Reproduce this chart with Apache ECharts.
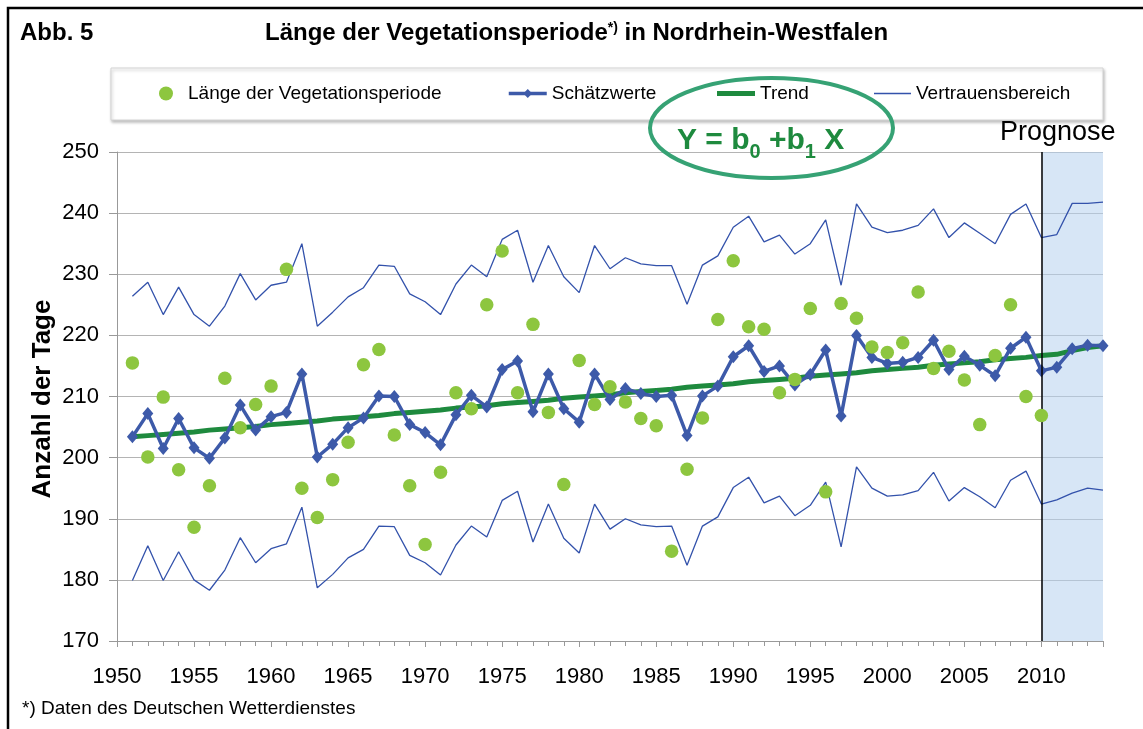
<!DOCTYPE html>
<html>
<head>
<meta charset="utf-8">
<script src="https://cdn.jsdelivr.net/npm/echarts@6/dist/echarts.min.js"></script>
<style>
  html, body { margin: 0; padding: 0; background: #fff; }
  #chart { width: 1143px; height: 729px; }
</style>
</head>
<body>
<div id="chart"></div>
<script>
// ---------- DATA ----------

const years = [];
for (let y = 1951; y <= 2014; y++) years.push(y);

// Länge der Vegetationsperiode (1951 - 2010)
const vegetation = [
	215.5, 200.1, 209.9, 198.0, 188.6, 195.4, 213.0, 204.9, 208.7, 211.7,
	230.8, 195.0, 190.2, 196.4, 202.5, 215.2, 217.7, 203.7, 195.4, 185.8,
	197.6, 210.6, 208.0, 225.0, 233.8, 210.6, 221.8, 207.4, 195.6, 215.9,
	208.7, 211.6, 209.1, 206.4, 205.2, 184.7, 198.1, 206.5, 222.6, 232.2,
	221.4, 221.0, 210.6, 212.8, 224.4, 194.4, 225.2, 222.8, 218.1, 217.2,
	218.8, 227.1, 214.6, 217.4, 212.7, 205.4, 216.7, 225.0, 210.0, 206.9
];

// Schätzwerte (1951 - 2014)
const estimates = [
	203.4, 207.2, 201.5, 206.4, 201.6, 199.9, 203.2, 208.6, 204.5, 206.7,
	207.4, 213.7, 200.1, 202.2, 204.9, 206.5, 210.1, 210.0, 205.4, 204.1,
	202.1, 207.0, 210.2, 208.3, 214.4, 215.8, 207.5, 213.7, 208.0, 205.8,
	213.7, 209.5, 211.3, 210.5, 210.0, 210.2, 203.6, 210.1, 211.7, 216.5,
	218.3, 214.1, 215.0, 211.9, 213.6, 217.6, 206.8, 220.0, 216.4, 215.4,
	215.6, 216.4, 219.2, 214.4, 216.6, 215.1, 213.4, 217.9, 219.7, 214.2,
	214.8, 217.8, 218.4, 218.3
];

// Trend (1951 - 2014)
const trend = [
	203.4, 203.6, 203.8, 204.0, 204.2, 204.5, 204.7, 204.9, 205.1, 205.4,
	205.6, 205.8, 206.0, 206.3, 206.5, 206.7, 206.9, 207.2, 207.4, 207.6,
	207.8, 208.1, 208.3, 208.5, 208.8, 209.0, 209.2, 209.4, 209.7, 209.9,
	210.1, 210.3, 210.6, 210.8, 211.0, 211.2, 211.5, 211.7, 211.9, 212.1,
	212.4, 212.6, 212.8, 213.0, 213.3, 213.5, 213.7, 213.9, 214.2, 214.4,
	214.6, 214.8, 215.1, 215.3, 215.5, 215.7, 216.0, 216.2, 216.4, 216.7,
	216.9, 217.5, 218.0, 218.3
];

// Vertrauensbereich oben / unten (1951 - 2014)
const upperBound = [
	226.4, 228.7, 223.4, 227.9, 223.4, 221.5, 224.8, 230.1, 225.8, 228.2,
	228.7, 235.0, 221.5, 223.8, 226.3, 227.8, 231.5, 231.3, 226.8, 225.5,
	223.4, 228.4, 231.5, 229.6, 235.7, 237.2, 228.7, 234.7, 229.6, 227.0,
	234.7, 230.9, 232.7, 231.7, 231.4, 231.4, 225.1, 231.5, 233.0, 237.7,
	239.5, 235.3, 236.4, 233.3, 235.0, 238.9, 228.2, 241.5, 237.7, 236.8,
	237.2, 238.0, 240.7, 236.0, 238.4, 236.7, 235.0, 239.8, 241.5, 236.0,
	236.5, 241.6, 241.6, 241.8
];
const lowerBound = [
	179.9, 185.6, 179.9, 184.6, 180.0, 178.3, 181.6, 186.9, 182.8, 185.1,
	185.9, 191.9, 178.7, 180.9, 183.6, 185.0, 188.8, 188.7, 184.0, 182.8,
	180.8, 185.7, 188.8, 187.0, 193.0, 194.5, 186.2, 192.4, 186.8, 184.4,
	192.4, 188.3, 190.0, 189.0, 188.7, 188.8, 182.4, 188.8, 190.3, 195.1,
	196.8, 192.6, 193.7, 190.5, 192.2, 196.0, 185.4, 198.5, 195.0, 193.7,
	193.9, 194.6, 197.6, 192.9, 195.1, 193.6, 191.8, 196.3, 197.8, 192.4,
	193.1, 194.2, 195.0, 194.7
];

const prognoseStart = 2010;
const prognoseEnd = 2014;

// ---------- CHART ----------

const FONT = 'Liberation Sans, Arial, sans-serif';
const pairs = (vals) => vals.map((v, i) => [years[i], v]);

let chart = echarts.init(document.getElementById('chart'));

let legendBase = {
	top: 84,
	itemHeight: 12,
	itemWidth: 38,
	padding: 0,
	selectedMode: false,
	textStyle: { fontFamily: FONT, fontSize: 19, color: '#000' }
};

let option = {
	animation: false,
	backgroundColor: '#fff',
	textStyle: { fontFamily: FONT },
	title: [
		{
			text: 'Abb. 5',
			left: 20, top: 21, padding: 0,
			textStyle: { fontFamily: FONT, fontSize: 24, fontWeight: 'bold', color: '#000' }
		},
		{
			text: 'Länge der Vegetationsperiode{s|*)} in Nordrhein-Westfalen',
			left: 265, top: 21, padding: 0,
			textStyle: {
				fontFamily: FONT, fontSize: 24, fontWeight: 'bold', color: '#000',
				rich: {
					s: { fontFamily: FONT, fontSize: 14, fontWeight: 'bold', verticalAlign: 'top', padding: [0, 0, 8, 0] }
				}
			}
		}
	],
	legend: [
		Object.assign({}, legendBase, {
			left: 159, itemWidth: 14, itemHeight: 14,
			data: [{ name: 'Länge der Vegetationsperiode', icon: 'circle' }],
			textStyle: Object.assign({}, legendBase.textStyle, { padding: [0, 0, 0, 10] })
		}),
		Object.assign({}, legendBase, {
			left: 507, itemHeight: 11,
			data: [{ name: 'Schätzwerte', lineStyle: { width: 3.5 } }]
		}),
		Object.assign({}, legendBase, {
			left: 717, itemHeight: 5,
			data: [{ name: 'Trend', icon: 'rect' }]
		}),
		Object.assign({}, legendBase, {
			left: 874, itemWidth: 37, itemHeight: 1.6,
			data: [{ name: 'Vertrauensbereich', icon: 'rect' }]
		})
	],
	grid: { left: 117, right: 40, top: 152, bottom: 88 },
	xAxis: {
		type: 'value',
		min: 1950,
		max: 2014,
		interval: 5,
		splitLine: { show: false },
		axisLine: { lineStyle: { color: '#999', width: 1 } },
		axisTick: { length: 6, lineStyle: { color: '#999' } },
		minorTick: { show: true, splitNumber: 5, length: 5, lineStyle: { color: '#999' } },
		axisLabel: {
			margin: 25,
			fontSize: 22,
			color: '#000',
			showMaxLabel: false,
			formatter: (v) => String(v)
		}
	},
	yAxis: {
		type: 'value',
		min: 170,
		max: 250,
		interval: 10,
		axisLine: { show: true, lineStyle: { color: '#999' } },
		axisTick: { show: true, length: 8, lineStyle: { color: '#999' } },
		splitLine: { lineStyle: { color: '#b4b4b4', width: 1 } },
		axisLabel: { margin: 18, fontSize: 22, color: '#000' }
	},
	series: [
		{
			name: 'Vertrauensbereich',
			type: 'line',
			data: pairs(upperBound),
			symbol: 'none',
			lineStyle: { color: '#3352ab', width: 1.3 },
			itemStyle: { color: '#3352ab' },
			z: 2
		},
		{
			name: 'Vertrauensbereich',
			type: 'line',
			data: pairs(lowerBound),
			symbol: 'none',
			lineStyle: { color: '#3352ab', width: 1.3 },
			itemStyle: { color: '#3352ab' },
			z: 2
		},
		{
			name: 'Trend',
			type: 'line',
			data: pairs(trend),
			symbol: 'none',
			lineStyle: { color: '#1e8a3e', width: 5 },
			itemStyle: { color: '#1e8a3e' },
			z: 3
		},
		{
			name: 'Schätzwerte',
			type: 'line',
			data: pairs(estimates),
			symbol: 'diamond',
			symbolSize: [11, 13],
			lineStyle: { color: '#3d5aa9', width: 3.5 },
			itemStyle: { color: '#3d5aa9' },
			z: 4
		},
		{
			name: 'Länge der Vegetationsperiode',
			type: 'scatter',
			data: pairs(vegetation),
			symbolSize: 13.5,
			itemStyle: { color: '#8dc63f', opacity: 1 },
			z: 5
		},
		{
			// Prognose-Bereich (halbtransparent über den Linien)
			name: 'Prognose',
			type: 'line',
			data: [],
			z: 6,
			markArea: {
				silent: true,
				itemStyle: { color: 'rgba(182, 210, 238, 0.55)' },
				data: [[{ xAxis: prognoseStart }, { xAxis: prognoseEnd }]]
			},
			markLine: {
				silent: true,
				symbol: 'none',
				label: { show: false },
				lineStyle: { color: '#000', width: 1.5, type: 'solid' },
				data: [{ xAxis: prognoseStart }]
			}
		}
	],
	graphic: [
		// Rahmen
		{
			type: 'rect',
			shape: { x: 8, y: 8, width: 1160, height: 800 },
			style: { fill: 'none', stroke: '#000', lineWidth: 2.5 },
			silent: true, z: -10
		},
		// Legendenkasten
		{
			type: 'rect',
			shape: { x: 111, y: 68, width: 992, height: 52 },
			style: {
				fill: '#fff', stroke: '#d4d4d4', lineWidth: 1,
				shadowBlur: 3, shadowColor: 'rgba(0,0,0,0.25)', shadowOffsetX: 1, shadowOffsetY: 2
			},
			silent: true, z: -5
		},
		// Achsentitel (gedreht)
		{
			type: 'text',
			x: 43, y: 399,
			rotation: Math.PI / 2,
			style: {
				text: 'Anzahl der Tage',
				font: 'bold 26px ' + FONT,
				fill: '#000',
				align: 'center',
				verticalAlign: 'middle'
			},
			silent: true
		},
		// Ellipse mit Formel
		{
			type: 'ellipse',
			shape: { cx: 771.5, cy: 128, rx: 121.5, ry: 50 },
			style: { fill: 'none', stroke: '#36a274', lineWidth: 4 },
			silent: true, z: 100
		},
		{
			type: 'text',
			x: 677, y: 126,
			style: {
				text: '{m|Y = b}{sub|0}{m| +b}{sub|1}{m| X}',
				rich: {
					m: { font: 'bold 30px ' + FONT, fill: '#1e8a3e', lineHeight: 30, verticalAlign: 'top' },
					sub: { font: 'bold 20px ' + FONT, fill: '#1e8a3e', lineHeight: 20, verticalAlign: 'top', padding: [16, 0, 0, 0] }
				}
			},
			silent: true, z: 100
		},
		{
			type: 'text',
			x: 1000, y: 119,
			style: { text: 'Prognose', font: '27px ' + FONT, fill: '#000' },
			silent: true, z: 100
		},
		// Fußnote
		{
			type: 'text',
			x: 22, y: 699,
			style: { text: '*) Daten des Deutschen Wetterdienstes', font: '19px ' + FONT, fill: '#000' },
			silent: true
		}
	]
};

chart.setOption(option);
</script>
</body>
</html>
